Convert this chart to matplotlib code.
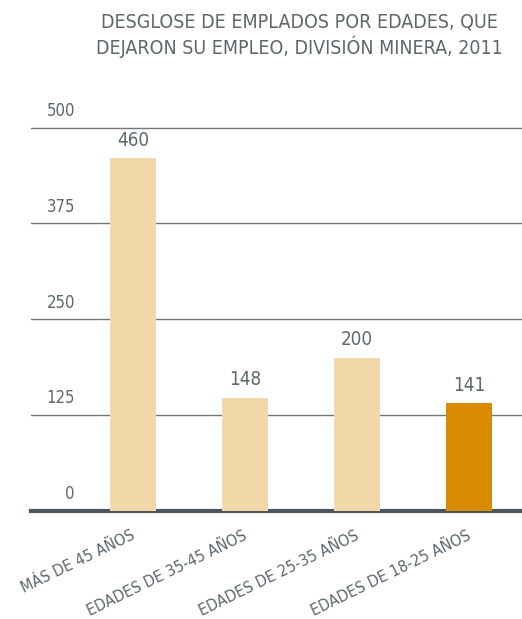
import matplotlib
matplotlib.use("Agg")
import matplotlib.pyplot as plt

categories = ["MÁS DE 45 AÑOS", "EDADES DE 35-45 AÑOS", "EDADES DE 25-35 AÑOS", "EDADES DE 18-25 AÑOS"]
values = [460, 148, 200, 141]
yticks = [0, 125, 250, 375, 500]
title = "DESGLOSE DE EMPLADOS POR EDADES, QUE\nDEJARON SU EMPLEO, DIVISIÓN MINERA, 2011"

# condensed face of DejaVu Sans, closest to the narrow original font
plt.rcParams["font.family"] = ["DejaVu Sans"]
plt.rcParams["font.stretch"] = "condensed"

text_gray = "#5d676c"
grid_gray = "#6e777c"
light = "#f0d8a9"
orange = "#d98b00"

W, H = 522, 619
fig = plt.figure(figsize=(W / 100, H / 100), dpi=100)
ax = fig.add_axes([31 / W, 108 / H, 491 / W, 411 / H])

x = list(range(len(values)))
colors = [light] * (len(values) - 1) + [orange]
bars = ax.bar(x, values, width=0.41, color=colors, zorder=3)
ax.set_xlim(-0.911, 3.473)
ax.set_ylim(0, 536)

for t in yticks[1:]:
    ax.axhline(t, color=grid_gray, lw=1, zorder=1)
for t in yticks:
    ax.text(0.0896, t + 10, str(t), transform=ax.get_yaxis_transform(),
            ha="right", va="bottom", fontsize=12, color=text_gray)

for bar, v in zip(bars, values):
    ax.annotate(str(v), (bar.get_x() + bar.get_width() / 2, v), xytext=(0, 6),
                textcoords="offset points", ha="center", va="bottom",
                fontsize=13.5, color=text_gray, zorder=4)

for s in ["top", "left", "right"]:
    ax.spines[s].set_visible(False)
ax.spines["bottom"].set_linewidth(3)
ax.spines["bottom"].set_color("#4b565c")
ax.set_yticks([])
ax.set_xticks([i - 0.02 for i in x])
ax.set_xticklabels(categories, rotation=26, ha="right", rotation_mode="anchor",
                   fontsize=11.5, color=text_gray)
ax.tick_params(axis="x", length=0, pad=12)

fig.text(299 / W, 1 - 13 / H, title, ha="center", va="top", fontsize=14,
         color=text_gray, linespacing=1.2)

fig.savefig("out.png", dpi=100)
